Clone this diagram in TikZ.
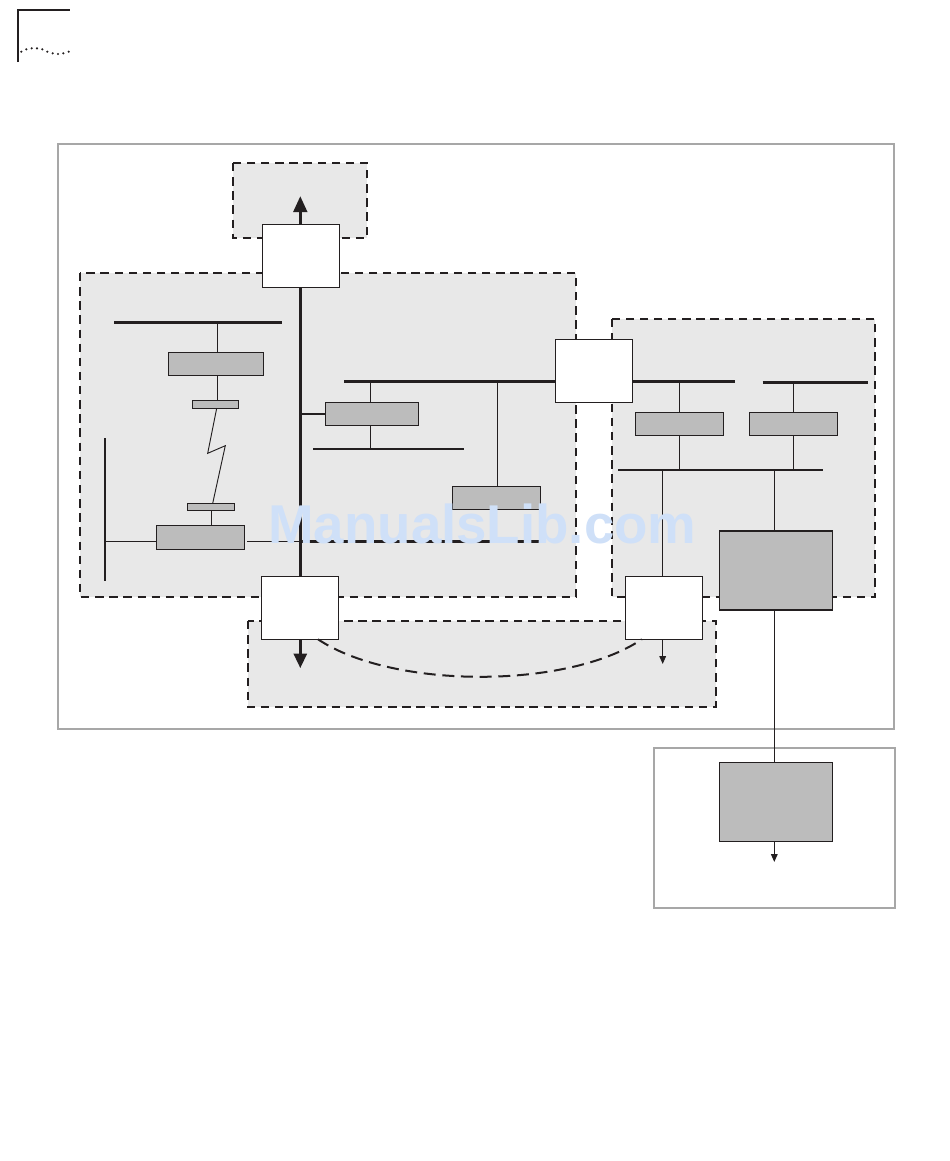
\documentclass[tikz,border=0pt]{standalone}
\usepackage{fontspec}
\usetikzlibrary{calc,arrows.meta}
\newfontfamily\wmfont{Liberation Sans}
\definecolor{linedark}{HTML}{231F20}
\definecolor{regiongray}{HTML}{E8E8E8}
\definecolor{hostgray}{HTML}{BCBCBC}
\definecolor{framegray}{HTML}{A7A7A7}
\definecolor{wmblue}{HTML}{CFE0F8}
\tikzset{
  region/.style={fill=regiongray,draw=linedark,line width=1.9pt,dash pattern=on 6.3pt off 4.3pt},
  frame/.style={draw=framegray,line width=1.5pt},
  router/.style={draw=linedark,fill=white,line width=0.8pt,inner sep=0pt,outer sep=0pt,minimum width=57.75pt,minimum height=47.25pt},
  host/.style={draw=linedark,fill=hostgray,line width=0.8pt,inner sep=0pt,outer sep=0pt},
  bus/.style={draw=linedark,line width=1.9pt},
  link/.style={draw=linedark,line width=0.9pt},
  trunk/.style={draw=linedark,line width=2.6pt},
  curvedash/.style={draw=linedark,line width=1.5pt,dash pattern=on 9pt off 5pt},
  wmark/.style={text=wmblue,inner sep=0pt,font=\wmfont\bfseries\fontsize{41}{48}\selectfont}
}
\begin{document}
\begin{tikzpicture}[x=0.75pt,y=-0.75pt]
                \useasboundingbox (0,0) rectangle (950,1161);
                % corner mark
                \draw[linedark,line width=1.3pt] (18,62)--(18,10)--(70,10);
                \foreach \x/\y in {21.3/51.7,26.3/49.3,31.7/48.3,37/48.3,42.3/49.3,47.3/51.7,52.7/53.3,58/54,63.3/53.3,68.7/51.7}
                    \fill[linedark] (\x,\y) circle (0.9pt);
                % frames and regions
                \draw[frame] (58,144) rectangle (894,729);
                \draw[frame] (654,748) rectangle (895,908);
                \draw[region] (233,163) rectangle (367,238);
                \draw[region] (80,273) rectangle (576,597);
                \draw[region] (612,319) rectangle (875,597);
                \draw[region] (248,621) rectangle (716,707);
                % routers
                \node[router] (rTop) at (300.6,255.8) {};
                \node[router] (rMid) at (593.8,370.8) {};
                \node[router] (rBL) at (300,607.8) {};
                \node[router] (rBR) at (663.8,607.8) {};
                % hosts
                \node[host,minimum width=71.25pt,minimum height=17.25pt] (hL1) at (215.8,363.8) {};
                \node[host,minimum width=34.5pt,minimum height=6pt] (barA) at (215.3,404.3) {};
                \node[host,minimum width=35.25pt,minimum height=5.25pt] (barB) at (210.8,506.8) {};
                \node[host,minimum width=66pt,minimum height=18pt] (hL2) at (200.3,537.3) {};
                \node[host,minimum width=70pt,minimum height=17.25pt] (hM1) at (372,413.8) {};
                \node[host,minimum width=66.25pt,minimum height=17.25pt] (hM2) at (496.5,497.8) {};
                \node[host,minimum width=66pt,minimum height=17.25pt] (hR1) at (679.3,423.8) {};
                \node[host,minimum width=66pt,minimum height=17.25pt] (hR2) at (793.3,423.8) {};
                \node[host,minimum width=84.75pt,minimum height=59.25pt] (hBig) at (775.8,570.5) {};
                \node[host,minimum width=84.75pt,minimum height=59.25pt] (hOut) at (775.8,801.8) {};
                % bus coordinates
                \coordinate (lanA1) at (114,322.7);
                \coordinate (lanA2) at (281.7,322.7);
                \coordinate (lanB1) at (105,438.3);
                \coordinate (lanB2) at (105,581);
                \coordinate (lanC1) at (344.3,381.7);
                \coordinate (lanD1) at (313.3,449);
                \coordinate (lanD2) at (464,449);
                \coordinate (lanE0) at (105,541.7);
                \coordinate (lanE1) at (247.3,541.7);
                \coordinate (lanE2) at (540.5,541.7);
                \coordinate (lanF2) at (735,381.7);
                \coordinate (lanG1) at (762.7,382.7);
                \coordinate (lanG2) at (868,382.7);
                \coordinate (lanH1) at (618,470);
                \coordinate (lanH2) at (823.3,470);
                \coordinate (tipTop) at (300.3,196);
                \coordinate (tipBL) at (300.3,668.3);
                \coordinate (tipBR) at (662.7,664);
                \coordinate (tipOut) at (774.3,862);
                % left subnet
                \draw[bus] (lanA1)--(lanA2);
                \draw[link] (217.3,322.7)--(hL1.north -| 217.3,0);
                \draw[link] (hL1.south -| 217.3,0)--(barA.north -| 217.3,0);
                \draw[line width=0.7pt,linedark] (216.7,408.3)--(207.7,453.3)--(225.3,445.7)--(212.7,503.3);
                \draw[link] (barB.south -| 211.7,0)--(hL2.north -| 211.7,0);
                \draw[bus] (lanB1)--(lanB2);
                \draw[link] (lanE0)--(lanE0 -| hL2.west);
                \draw[link] (lanE1)--(lanE1 -| tipTop);
                \draw[bus] (lanE1 -| tipTop)--(lanE2);
                % backbone
                \draw[trunk] (rTop.south -| tipTop)--(rBL.north -| tipTop);
                \draw[trunk,-{Triangle[length=12pt,width=10pt]}] (rTop.north -| tipTop)--(tipTop);
                \draw[trunk,-{Triangle[length=11pt,width=9.5pt]}] (rBL.south -| tipBL)--(tipBL);
                % middle subnet
                \draw[bus] (lanC1)--(lanC1 -| rMid.west);
                \draw[bus] (tipTop |- hM1.west)--(hM1.west);
                \draw[link] (370.7,381.7)--(hM1.north -| 370.7,0);
                \draw[link] (hM1.south -| 370.7,0)--(370.7,449);
                \draw[bus] (lanD1)--(lanD2);
                \draw[link] (497.3,381.7)--(hM2.north -| 497.3,0);
                % right subnet
                \draw[bus] (rMid.east |- lanF2)--(lanF2);
                \draw[bus] (lanG1)--(lanG2);
                \draw[link] (hR1.north |- lanF2)--(hR1.north);
                \draw[link] (hR1.south)--(hR1.south |- lanH1);
                \draw[link] (hR2.north |- lanG1)--(hR2.north);
                \draw[link] (hR2.south)--(hR2.south |- lanH1);
                \draw[bus] (lanH1)--(lanH2);
                \draw[link] (662.7,470)--(rBR.north -| 662.7,0);
                \draw[link] (774.3,470)--(hBig.north -| 774.3,0);
                \draw[link] (hBig.south -| 774.3,0)--(hOut.north -| 774.3,0);
                \draw[link,-{Triangle[length=6pt,width=5pt]}] (rBR.south -| tipBR)--(tipBR);
                \draw[link,-{Triangle[length=6pt,width=5pt]}] (hOut.south -| tipOut)--(tipOut);
                % dashed link between routers
                \draw[curvedash] ($(rBL.south)+(18,0)$) .. controls ($(rBL.south)+(93,50)$) and ($(rBR.south)+(-96,50)$) .. ($(rBR.south)+(-22,0)$);
                \node[wmark,anchor=base west] (wm) at (268,543) {ManualsLib.com};
\end{tikzpicture}
\end{document}
